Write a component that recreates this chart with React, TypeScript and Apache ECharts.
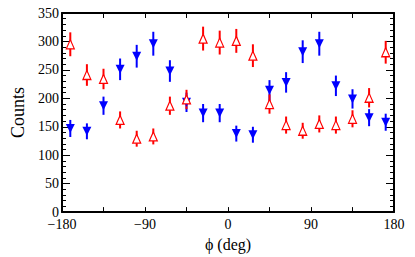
import React, { useEffect, useRef } from "react";
import * as echarts from "echarts";

const phi = [-171, -153, -135, -117, -99, -81, -63, -45, -27, -9, 9, 27, 45, 63, 81, 99, 117, 135, 153, 171];
const redValues = [295, 241, 234, 162, 129, 133, 187, 198, 305, 298, 301, 275, 190, 153, 143, 155, 153, 164, 201, 281];
const redErrors = [21, 19, 18, 15, 14, 14, 16, 17, 21, 21, 21, 20, 17, 15, 14, 15, 15, 15, 17, 20];
const blueValues = [147, 142, 187, 251, 274, 296, 248, 193, 174, 174, 138, 136, 214, 228, 282, 296, 222, 199, 166, 158];
const blueErrors = [15, 14, 16, 19, 20, 21, 19, 17, 16, 16, 14, 14, 18, 18, 20, 21, 18, 17, 15, 15];

const FONT = "Liberation Serif, Times New Roman, serif";

function errSeries(values: number[], errors: number[], color: string) {
  return {
    type: "custom",
    xAxisIndex: 0,
    yAxisIndex: 0,
    data: phi.map((x, i) => [x, values[i], errors[i]]),
    renderItem: (params: any, api: any) => {
      const x = api.value(0);
      const v = api.value(1);
      const e = api.value(2);
      const p1 = api.coord([x, v - e]);
      const p2 = api.coord([x, v + e]);
      return {
        type: "line",
        shape: { x1: p1[0], y1: p1[1], x2: p2[0], y2: p2[1] },
        style: { stroke: color, lineWidth: 2 },
      };
    },
    silent: true,
    z: 2,
  };
}

export default function App() {
  const ref = useRef<HTMLDivElement>(null);
  useEffect(() => {
    if (!ref.current) return;
    const chart = echarts.init(ref.current, undefined, { renderer: "svg" });
    const axisLine = { show: true, onZero: false, lineStyle: { color: "#000", width: 2 } };
    const fmtX = (v: number) => (v % 90 === 0 ? (v < 0 ? "\u2212" + -v : String(v)) : "");
    chart.setOption({
      animation: false,
      backgroundColor: "#fff",
      grid: { left: 62, right: 21, top: 13, bottom: 39, containLabel: false },
      xAxis: [
        {
          type: "value",
          min: -180,
          max: 180,
          interval: 45,
          position: "bottom",
          axisLine,
          axisTick: { show: true, inside: true, length: 5, lineStyle: { color: "#000", width: 1 } },
          axisLabel: { formatter: fmtX, color: "#000", fontFamily: FONT, fontSize: 14, margin: 5 },
          splitLine: { show: false },
          name: "\u03d5 (deg)",
          nameLocation: "middle",
          nameGap: 17,
          nameTextStyle: { color: "#000", fontFamily: FONT, fontSize: 16 },
        },
        {
          type: "value",
          min: -180,
          max: 180,
          interval: 45,
          position: "top",
          axisLine,
          axisTick: { show: true, inside: true, length: 5, lineStyle: { color: "#000", width: 1 } },
          axisLabel: { show: false },
          splitLine: { show: false },
        },
      ],
      yAxis: [
        {
          type: "value",
          min: 0,
          max: 350,
          interval: 50,
          position: "left",
          axisLine,
          axisTick: { show: true, inside: true, length: 8, lineStyle: { color: "#000", width: 1 } },
          minorTick: { show: true, splitNumber: 5, length: 4, lineStyle: { color: "#000", width: 1 } },
          axisLabel: { color: "#000", fontFamily: FONT, fontSize: 14, margin: 3 },
          splitLine: { show: false },
          minorSplitLine: { show: false },
          name: "Counts",
          nameLocation: "middle",
          nameGap: 35,
          nameRotate: 90,
          nameTextStyle: { color: "#000", fontFamily: FONT, fontSize: 18 },
        },
        {
          type: "value",
          min: 0,
          max: 350,
          interval: 50,
          position: "right",
          axisLine,
          axisTick: { show: true, inside: true, length: 8, lineStyle: { color: "#000", width: 1 } },
          minorTick: { show: true, splitNumber: 5, length: 4, lineStyle: { color: "#000", width: 1 } },
          axisLabel: { show: false },
          splitLine: { show: false },
          minorSplitLine: { show: false },
        },
      ],
      series: [
        errSeries(blueValues, blueErrors, "#0000ff"),
        {
          type: "scatter",
          data: phi.map((x, i) => [x, blueValues[i]]),
          symbol: "triangle",
          symbolRotate: 180,
          symbolSize: [9, 9],
          itemStyle: { color: "#0000ff", borderWidth: 0, opacity: 1 },
          z: 3,
        },
        errSeries(redValues, redErrors, "#ff0000"),
        {
          type: "scatter",
          data: phi.map((x, i) => [x, redValues[i]]),
          symbol: "triangle",
          symbolSize: [8, 9],
          itemStyle: { color: "#ffffff", borderColor: "#ff0000", borderWidth: 1.2, opacity: 1 },
          z: 4,
        },
      ],
    });
    return () => chart.dispose();
  }, []);
  return <div ref={ref} style={{ width: 415, height: 257, position: "absolute", left: 0, top: 0 }} />;
}
